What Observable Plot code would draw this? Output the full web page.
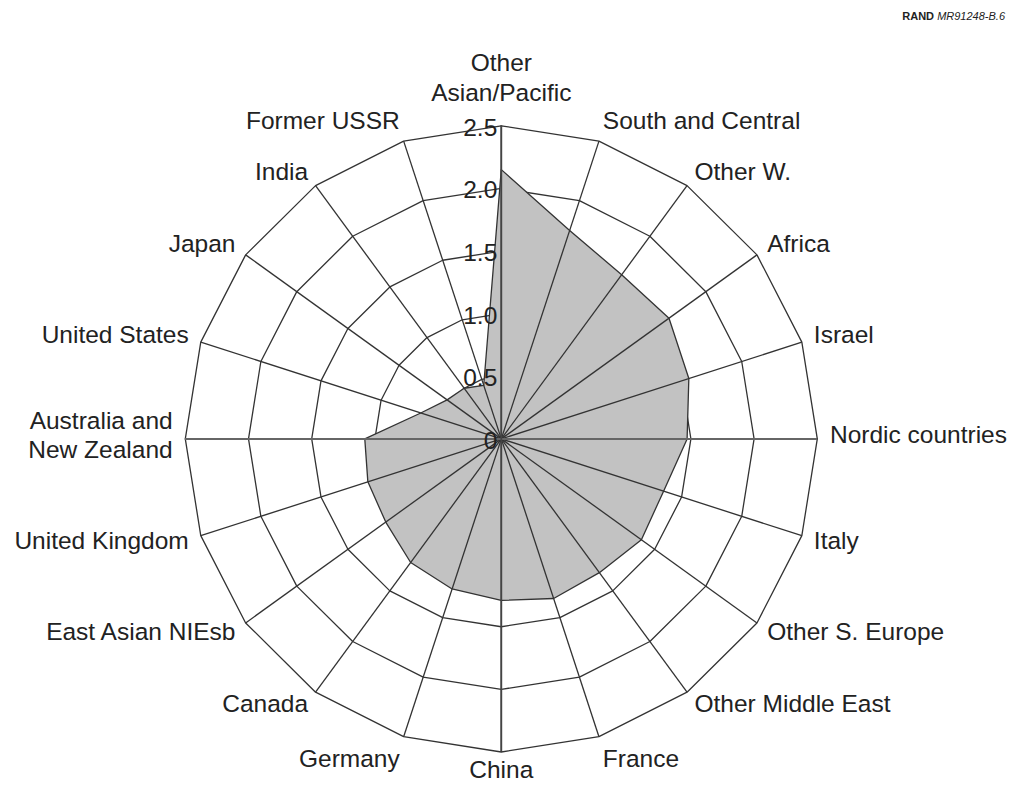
<!DOCTYPE html>
<html><head><meta charset="utf-8">
<script src="https://cdn.jsdelivr.net/npm/d3@7"></script>
<script src="https://cdn.jsdelivr.net/npm/@observablehq/plot@0.6"></script>
<style>
body{margin:0;background:#fff;}
#wrap{position:relative;width:1013px;height:785px;}
#code{position:absolute;right:8px;top:10px;font:11px 'Liberation Sans',Arial,sans-serif;color:#222;z-index:2;}
</style>
</head><body><div id="wrap"></div>
<script>
// Categories clockwise from the top
const categories = [
  "Other\nAsian/Pacific", "South and Central", "Other W.", "Africa", "Israel",
  "Nordic countries", "Italy", "Other S. Europe", "Other Middle East", "France",
  "China", "Germany", "Canada", "East Asian NIEsb", "United Kingdom",
  "Australia and\nNew Zealand", "United States", "Japan", "India", "Former USSR"
];
const values = [
  2.15, 1.75, 1.62, 1.64, 1.56,
  1.47, 1.35, 1.37, 1.32, 1.34,
  1.29, 1.26, 1.22, 1.13, 1.11,
  1.08, 0.67, 0.53, 0.50, 0.45
];
const ringLevels = [0.5, 1.0, 1.5, 2.0, 2.5];
const tickValues = [0, 0.5, 1.0, 1.5, 2.0, 2.5];
const tickLabels = ["0", "0.5", "1.0", "1.5", "2.0", "2.5"];
const maxR = 2.5;

const n = categories.length;
const ang = i => i * 2 * Math.PI / n;
const px = (r, i) => r * Math.sin(ang(i));
const py = (r, i) => r * Math.cos(ang(i));

const ringData = ringLevels.flatMap(r => categories.map((c, i) => ({r, x: px(r, i), y: py(r, i)})));
const polyData = values.map((v, i) => ({x: px(v, i), y: py(v, i)}));
const spokeData = categories.map((c, i) => ({x2: px(maxR, i), y2: py(maxR, i)}));

const labR = maxR + 0.1;
const labels = categories.map((c, i) => {
  const s = Math.sin(ang(i)), co = Math.cos(ang(i));
  const ta = s > 0.1 ? "start" : s < -0.1 ? "end" : "middle";
  const la = co > 0.9 ? "bottom" : co < -0.9 ? "top" : "middle";
  let dy = 0;
  if (la === "bottom") dy = ta === "middle" ? -12 : 0;
  else if (la === "top") dy = ta === "middle" ? -8 : -3;
  else if (co > -0.05) dy = -5;
  return {label: c, x: labR * s, y: labR * co, ta, la, dy};
});
const font = 24.5;
const groups = d3.groups(labels, d => d.ta + "|" + d.la + "|" + d.dy);
const labelMarks = groups.map(([key, sub]) => Plot.text(sub, {
  x: "x", y: "y", text: "label",
  textAnchor: sub[0].ta, lineAnchor: sub[0].la, dy: sub[0].dy,
  fontSize: font, lineHeight: 1.22, fill: "#222"
}));

const chart = Plot.plot({
  width: 1013, height: 785,
  marginTop: 0, marginBottom: 0, marginLeft: 0, marginRight: 0,
  x: {type: "linear", domain: [-maxR, maxR], range: [184.8, 816.8], axis: null},
  y: {type: "linear", domain: [-maxR, maxR], range: [751.5, 125.3], axis: null},
  style: {fontFamily: "'Liberation Sans', Arial, Helvetica, sans-serif", background: "white"},
  marks: [
    Plot.line(ringData, {x: "x", y: "y", z: "r", curve: "linear-closed", stroke: "#333", strokeWidth: 1.3}),
    Plot.line(polyData, {x: "x", y: "y", curve: "linear-closed", fill: "#c2c2c2", stroke: "#333", strokeWidth: 1.3}),
    Plot.link(spokeData, {x1: () => 0, y1: () => 0, x2: "x2", y2: "y2", stroke: "#333", strokeWidth: 1.3}),
    Plot.ruleY([0], {x1: () => -maxR, x2: () => maxR, stroke: "#666", strokeWidth: 2}),
    Plot.ruleX([0], {y1: () => -maxR, y2: () => maxR, stroke: "#444", strokeWidth: 1.8}),
    Plot.text(tickValues, {x: () => 0, y: d => d, text: (d, i) => tickLabels[i], textAnchor: "end", dx: -4, dy: 2, fontSize: font, fill: "#222"}),
    ...labelMarks
  ]
});
const wrap = document.getElementById("wrap");
wrap.appendChild(chart);
const code = document.createElement("div");
code.id = "code";
code.innerHTML = "<b>RAND</b> <i>MR91248-B.6</i>";
wrap.appendChild(code);
</script></body></html>
